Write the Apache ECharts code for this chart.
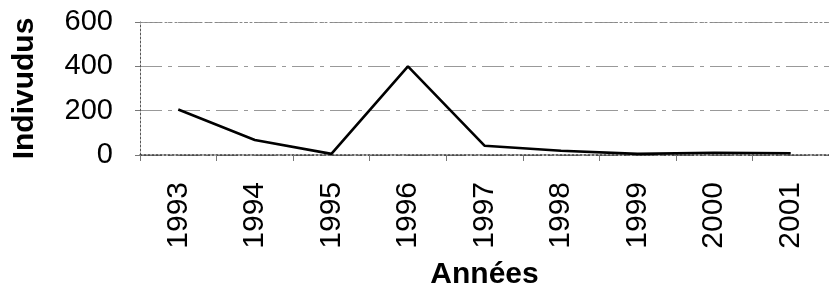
<!DOCTYPE html>
<html>
<head>
<meta charset="utf-8">
<script src="https://cdn.jsdelivr.net/npm/echarts@6/dist/echarts.min.js"></script>
<style>
    html, body { margin: 0; padding: 0; background: #fff; }
    #chart { width: 829px; height: 292px; }
</style>
</head>
<body>
<div id="chart"></div>
<script>
    var years = ["1993", "1994", "1995", "1996", "1997", "1998", "1999", "2000", "2001"];
    var individus = [205, 68, 5, 400, 42, 19, 5, 10, 8];
    var yTicks = [0, 200, 400, 600];

    var font = "'Liberation Sans', Arial, Helvetica, sans-serif";
    var chart = echarts.init(document.getElementById("chart"));

    var option = {
        animation: false,
        backgroundColor: "#fff",
        textStyle: { fontFamily: font },
        grid: { left: 140, right: -7, top: 22, bottom: 137, containLabel: false },
        xAxis: [{
            type: "category",
            data: years,
            boundaryGap: true,
            name: "Années",
            nameLocation: "middle",
            nameGap: 105,
            nameTextStyle: { fontSize: 30, fontWeight: "bold", color: "#000", fontFamily: font },
            axisLine: { show: true, lineStyle: { color: "#333", width: 1.5, type: [2, 2] } },
            axisTick: { show: true, alignWithLabel: false, length: 6, lineStyle: { color: "#777" } },
            axisLabel: { rotate: 90, margin: 27, fontSize: 30, color: "#000", fontFamily: font },
            splitLine: { show: false }
        }, {
            type: "category",
            data: years,
            position: "top",
            axisLine: { show: true, lineStyle: { color: "#888", width: 1, type: [2, 3] } },
            axisTick: { show: false },
            axisLabel: { show: false }
        }],
        yAxis: {
            type: "value",
            min: yTicks[0],
            max: yTicks[yTicks.length - 1],
            interval: 200,
            name: "Indivudus",
            nameLocation: "middle",
            nameGap: 100,
            nameTextStyle: { fontSize: 30, fontWeight: "bold", color: "#000", fontFamily: font },
            axisLine: { show: true, lineStyle: { color: "#555", width: 1, type: [2, 2] } },
            axisTick: { show: true, length: 5, lineStyle: { color: "#777" } },
            axisLabel: { margin: 27, fontSize: 29, color: "#000", fontFamily: font },
            splitLine: { show: true, lineStyle: { color: "#999", width: 1, type: [22, 6, 4, 6] } }
        },
        series: [{
            name: "Individus",
            type: "line",
            data: individus,
            showSymbol: false,
            symbol: "none",
            lineStyle: { color: "#000", width: 2.6 }
        }]
    };

    chart.setOption(option);
</script>
</body>
</html>
